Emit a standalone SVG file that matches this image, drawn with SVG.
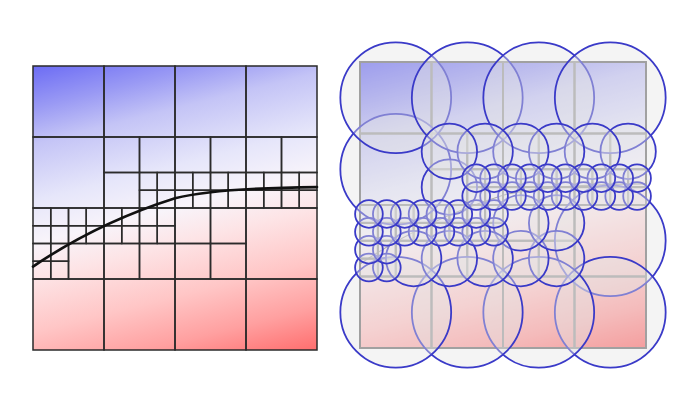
<svg xmlns="http://www.w3.org/2000/svg" width="700" height="407" viewBox="0 0 700 407">
<style>
.curveL{fill:none;stroke:#111;stroke-width:.15;stroke-linecap:round}
.curveR{fill:none;stroke:#6a6a6a;stroke-width:.06;opacity:.8}
.rings circle{fill:#e4e4e4;fill-opacity:.41;stroke:#3a3ac8;stroke-width:.1}
</style>
<defs>
<linearGradient id="grad" x1="0" y1="0" x2="0.294" y2="1.176">
<stop offset="0" stop-color="#6c6cf4"/>
<stop offset="0.12" stop-color="#9a9af4"/>
<stop offset="0.22" stop-color="#c4c4f6"/>
<stop offset="0.38" stop-color="#e6e6fa"/>
<stop offset="0.5" stop-color="#f8f4fa"/>
<stop offset="0.6" stop-color="#fde4e6"/>
<stop offset="0.75" stop-color="#ffc6c6"/>
<stop offset="0.88" stop-color="#ffa0a0"/>
<stop offset="1" stop-color="#ff6e6e"/>
</linearGradient>
<g id="tree" fill="none">
<rect x="0" y="0" width="4" height="4"/><rect x="4" y="0" width="4" height="4"/><rect x="8" y="0" width="4" height="4"/><rect x="12" y="0" width="4" height="4"/>
<rect x="0" y="4" width="4" height="4"/><rect x="12" y="8" width="4" height="4"/>
<rect x="0" y="12" width="4" height="4"/><rect x="4" y="12" width="4" height="4"/><rect x="8" y="12" width="4" height="4"/><rect x="12" y="12" width="4" height="4"/>
<rect x="4" y="4" width="2" height="2"/><rect x="6" y="4" width="2" height="2"/><rect x="4" y="6" width="2" height="2"/>
<rect x="8" y="4" width="2" height="2"/><rect x="10" y="4" width="2" height="2"/><rect x="12" y="4" width="2" height="2"/><rect x="14" y="4" width="2" height="2"/>
<rect x="2" y="10" width="2" height="2"/><rect x="4" y="10" width="2" height="2"/><rect x="6" y="10" width="2" height="2"/>
<rect x="8" y="8" width="2" height="2"/><rect x="10" y="8" width="2" height="2"/><rect x="8" y="10" width="2" height="2"/><rect x="10" y="10" width="2" height="2"/>
<rect x="6" y="6" width="1" height="1"/><rect x="7" y="6" width="1" height="1"/><rect x="8" y="6" width="1" height="1"/><rect x="9" y="6" width="1" height="1"/><rect x="10" y="6" width="1" height="1"/><rect x="11" y="6" width="1" height="1"/><rect x="12" y="6" width="1" height="1"/><rect x="13" y="6" width="1" height="1"/><rect x="14" y="6" width="1" height="1"/><rect x="15" y="6" width="1" height="1"/>
<rect x="6" y="7" width="1" height="1"/><rect x="7" y="7" width="1" height="1"/><rect x="8" y="7" width="1" height="1"/><rect x="9" y="7" width="1" height="1"/><rect x="10" y="7" width="1" height="1"/><rect x="11" y="7" width="1" height="1"/><rect x="12" y="7" width="1" height="1"/><rect x="13" y="7" width="1" height="1"/><rect x="14" y="7" width="1" height="1"/><rect x="15" y="7" width="1" height="1"/>
<rect x="0" y="8" width="1" height="1"/><rect x="1" y="8" width="1" height="1"/><rect x="2" y="8" width="1" height="1"/><rect x="3" y="8" width="1" height="1"/><rect x="4" y="8" width="1" height="1"/><rect x="5" y="8" width="1" height="1"/><rect x="6" y="8" width="1" height="1"/><rect x="7" y="8" width="1" height="1"/>
<rect x="0" y="9" width="1" height="1"/><rect x="1" y="9" width="1" height="1"/><rect x="2" y="9" width="1" height="1"/><rect x="3" y="9" width="1" height="1"/><rect x="4" y="9" width="1" height="1"/><rect x="5" y="9" width="1" height="1"/><rect x="6" y="9" width="1" height="1"/><rect x="7" y="9" width="1" height="1"/>
<rect x="0" y="10" width="1" height="1"/><rect x="1" y="10" width="1" height="1"/><rect x="0" y="11" width="1" height="1"/><rect x="1" y="11" width="1" height="1"/>
</g>
<path id="curve" d="M0,11.3 C2.5,9.6 5,8.4 8,7.45 C10,6.95 13,6.85 16,6.82"/>
</defs>

<g id="quadtree-left" transform="translate(33,66) scale(17.75)">
<rect x="0" y="0" width="16" height="16" fill="url(#grad)"/>
<use href="#tree" stroke="#2b2b2b" stroke-width="0.085"/>
<use href="#curve" class="curveL"/>
</g>

<g id="quadtree-right" transform="translate(360,62) scale(17.875)">
<rect x="0" y="0" width="16" height="16" fill="url(#grad)"/>
<use href="#curve" class="curveR"/>
<use href="#tree" stroke="#707070" stroke-width="0.11"/>
<g class="rings">
<circle cx="14" cy="10" r="3.1"/><circle cx="2" cy="6" r="3.1"/>
<circle cx="14" cy="14" r="3.1"/><circle cx="10" cy="14" r="3.1"/><circle cx="6" cy="14" r="3.1"/><circle cx="2" cy="14" r="3.1"/>
<circle cx="2" cy="2" r="3.1"/><circle cx="6" cy="2" r="3.1"/><circle cx="10" cy="2" r="3.1"/><circle cx="14" cy="2" r="3.1"/>
<circle cx="11" cy="11" r="1.55"/><circle cx="9" cy="11" r="1.55"/><circle cx="11" cy="9" r="1.55"/><circle cx="9" cy="9" r="1.55"/>
<circle cx="7" cy="11" r="1.55"/><circle cx="5" cy="11" r="1.55"/><circle cx="3" cy="11" r="1.55"/>
<circle cx="15" cy="5" r="1.55"/><circle cx="13" cy="5" r="1.55"/><circle cx="11" cy="5" r="1.55"/><circle cx="9" cy="5" r="1.55"/>
<circle cx="5" cy="7" r="1.55"/><circle cx="7" cy="5" r="1.55"/><circle cx="5" cy="5" r="1.55"/>
<circle cx="1.5" cy="11.5" r=".775"/><circle cx=".5" cy="11.5" r=".775"/><circle cx="1.5" cy="10.5" r=".775"/><circle cx=".5" cy="10.5" r=".775"/>
<circle cx="7.5" cy="9.5" r=".775"/><circle cx="6.5" cy="9.5" r=".775"/><circle cx="5.5" cy="9.5" r=".775"/><circle cx="4.5" cy="9.5" r=".775"/><circle cx="3.5" cy="9.5" r=".775"/><circle cx="2.5" cy="9.5" r=".775"/><circle cx="1.5" cy="9.5" r=".775"/><circle cx=".5" cy="9.5" r=".775"/>
<circle cx="7.5" cy="8.5" r=".775"/><circle cx="6.5" cy="8.5" r=".775"/><circle cx="5.5" cy="8.5" r=".775"/><circle cx="4.5" cy="8.5" r=".775"/><circle cx="3.5" cy="8.5" r=".775"/><circle cx="2.5" cy="8.5" r=".775"/><circle cx="1.5" cy="8.5" r=".775"/><circle cx=".5" cy="8.5" r=".775"/>
<circle cx="15.5" cy="7.5" r=".775"/><circle cx="14.5" cy="7.5" r=".775"/><circle cx="13.5" cy="7.5" r=".775"/><circle cx="12.5" cy="7.5" r=".775"/><circle cx="11.5" cy="7.5" r=".775"/><circle cx="10.5" cy="7.5" r=".775"/><circle cx="9.5" cy="7.5" r=".775"/><circle cx="8.5" cy="7.5" r=".775"/><circle cx="7.5" cy="7.5" r=".775"/><circle cx="6.5" cy="7.5" r=".775"/>
<circle cx="15.5" cy="6.5" r=".775"/><circle cx="14.5" cy="6.5" r=".775"/><circle cx="13.5" cy="6.5" r=".775"/><circle cx="12.5" cy="6.5" r=".775"/><circle cx="11.5" cy="6.5" r=".775"/><circle cx="10.5" cy="6.5" r=".775"/><circle cx="9.5" cy="6.5" r=".775"/><circle cx="8.5" cy="6.5" r=".775"/><circle cx="7.5" cy="6.5" r=".775"/><circle cx="6.5" cy="6.5" r=".775"/>
</g>
</g>
</svg>
